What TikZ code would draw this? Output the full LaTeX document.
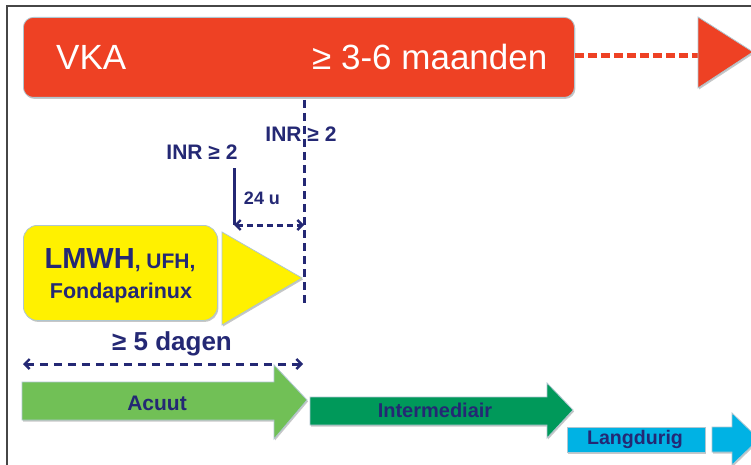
\documentclass[tikz,border=0pt]{standalone}
\usepackage{fontspec}
\setmainfont{Liberation Sans}
\usetikzlibrary{arrows.meta,shadows}
\definecolor{vkared}{RGB}{238,65,36}
\definecolor{navy}{RGB}{36,40,116}
\definecolor{lmyellow}{RGB}{255,241,0}
\definecolor{lgreen}{RGB}{113,192,86}
\definecolor{dgreen}{RGB}{0,153,90}
\definecolor{lblue}{RGB}{0,178,228}
\definecolor{edgecol}{RGB}{175,198,208}
\definecolor{framegray}{RGB}{70,70,70}
\tikzset{
  shp/.style={draw=edgecol, line width=0.8pt,
    drop shadow={shadow xshift=1pt,shadow yshift=-1.5pt,fill=black,opacity=0.22}},
  navyline/.style={draw=navy, line width=3pt},
  navydash/.style={navyline, dash pattern=on 8pt off 5pt},
  dbl/.style={arrows={Straight Barb[length=5pt,width=10pt,line width=2.4pt]-Straight Barb[length=5pt,width=10pt,line width=2.4pt]}},
  lbl/.style={text=navy, inner sep=0pt, anchor=base},
}
\begin{document}
\begin{tikzpicture}[x=1pt,y=-1pt]
\useasboundingbox (0,0) rectangle (751,465);
\clip (0,0) rectangle (751,465);
\fill[white] (0,0) rectangle (751,465);
% frame
\draw[framegray, line width=1.5pt] (7,470) -- (7,6) -- (760,6);

% VKA bar
\node[shp, fill=vkared, rounded corners=10pt, minimum width=551pt, minimum height=80pt,
      anchor=north west, inner sep=0pt] (vka) at (23,17) {};
\node[anchor=base west, inner sep=0pt, text=white, font=\fontsize{35}{40}\selectfont] (vkat) at (56,70) {VKA};
\node[anchor=base west, inner sep=0pt, text=white, font=\fontsize{35}{40}\selectfont] (vkad) at (312,70) {≥ 3-6 maanden};
\coordinate (redtri) at (699,56);
\draw[vkared, line width=5pt, dash pattern=on 9pt off 4pt] (vka.east |- redtri) -- (redtri);
\fill[shp, fill=vkared] (698,17) -- (753,52) -- (698,88) -- cycle;

% vertical dashed line
\coordinate (vtop) at (304,100);
\coordinate (vbot) at (304,307);
\draw[navydash] (vtop) -- (vbot);

% INR labels
\node[lbl, font=\bfseries\fontsize{21}{24}\selectfont] (inr2) at (301,142) {INR ≥ 2};
\node[lbl, font=\bfseries\fontsize{21}{24}\selectfont] (inr1) at (202,160) {INR ≥ 2};
\coordinate (s1) at (234,168);
\coordinate (s2) at (234,225);
\coordinate (s3) at (304,225);
\draw[navyline] (s1) -- (s2);
\draw[navydash, dbl, dash pattern=on 6pt off 4pt] (s2) -- (s3);
\node[lbl, font=\bfseries\fontsize{18}{21}\selectfont] (u24) at (262,204) {24 u};

% LMWH box
\node[shp, fill=lmyellow, rounded corners=14pt, minimum width=194pt, minimum height=95pt,
      anchor=north west, inner sep=0pt] (lmwh) at (23,225) {};
\node[lbl, font=\bfseries] (lmwht1) at (120,268) {{\fontsize{29}{32}\selectfont LMWH}{\fontsize{21}{24}\selectfont, UFH,}};
\node[lbl, font=\bfseries\fontsize{21.5}{24}\selectfont] (lmwht2) at (121,298) {Fondaparinux};
\fill[shp, fill=lmyellow] (222,232) -- (302,278) -- (222,325) -- cycle;

% 5 dagen
\node[lbl, font=\bfseries\fontsize{26}{30}\selectfont] (dagen) at (172,350) {≥ 5 dagen};
\coordinate (d1) at (23,364);
\coordinate (d2) at (303,364);
\draw[navydash, dbl, dash pattern=on 8pt off 6pt] (d1) -- (d2);

% phase arrows
\fill[shp, fill=lgreen] (22,382) -- (274,382) -- (274,365) -- (307,400) -- (274,439) -- (274,420) -- (22,420) -- cycle;
\node[lbl, font=\bfseries\fontsize{21}{24}\selectfont] (acuut) at (157,410) {Acuut};
\fill[shp, fill=dgreen] (310,397) -- (547,397) -- (547,383) -- (573,410) -- (547,438) -- (547,425) -- (310,425) -- cycle;
\node[lbl, font=\bfseries\fontsize{20}{23}\selectfont] (inter) at (435,417) {Intermediair};
\node[shp, fill=lblue, minimum width=138pt, minimum height=25pt, anchor=north west, inner sep=0pt] (lang) at (567,427) {};
\node[lbl, font=\bfseries\fontsize{19.6}{23}\selectfont] (langt) at (635,444) {Langdurig};
\fill[shp, fill=lblue] (712,427) -- (732,427) -- (732,413) -- (759,439) -- (732,465) -- (732,452) -- (712,452) -- cycle;
\end{tikzpicture}
\end{document}
